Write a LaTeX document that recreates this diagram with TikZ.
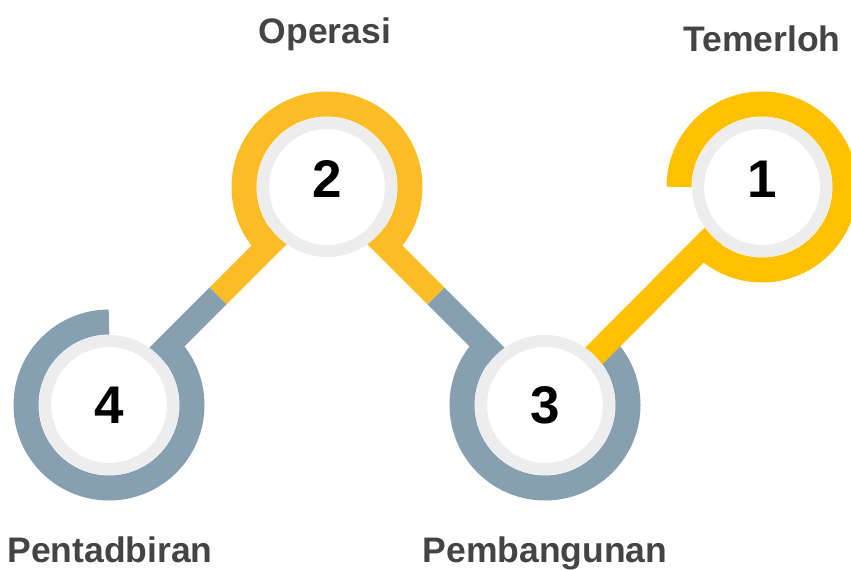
\documentclass[tikz,border=0pt]{standalone}
\usepackage{fontspec}
\setmainfont{Liberation Sans}
\usepackage{tikz}
\usetikzlibrary{calc}
\usetikzlibrary{backgrounds}
\usetikzlibrary{positioning}

\definecolor{gold}{HTML}{FFC000}
\definecolor{amber}{HTML}{FBBC26}
\definecolor{slate}{HTML}{87A0B1}
\definecolor{mist}{HTML}{EDEDED}
\definecolor{inkgrey}{HTML}{444444}

\tikzset{
  ring/.style={line width=25pt},
  link/.style={line width=24pt},
  hub/.style={circle,draw=mist,line width=12pt,fill=white,minimum size=128pt,inner sep=0pt},
  digit/.style={font=\bfseries\fontsize{53}{60}\selectfont,inner sep=0pt},
  caption/.style={text=inkgrey,font=\bfseries\fontsize{35.5}{42}\selectfont,anchor=base}
}

\begin{document}
\begin{tikzpicture}[x=1pt,y=1pt]

  \useasboundingbox (0,0) rectangle (851,570);

  \node [hub] (hub_1) at (762,383) {};
  \node [hub] (hub_2) at (327,383) {};
  \node [hub] (hub_3) at (545,165) {};
  \node [hub] (hub_4) at (109,165) {};

  \node [digit] (num_1) at ($(hub_1)+(0,8)$) {1};
  \node [digit] (num_2) at ($(hub_2)+(0,8)$) {2};
  \node [digit] (num_3) at (hub_3) {3};
  \node [digit] (num_4) at (hub_4) {4};

  \begin{scope}[on background layer]
    \draw [ring,gold]  ($(hub_1)+(180:83)$) arc [start angle=180,end angle=-135,radius=83];
    \draw [ring,amber] ($(hub_2)+(-45:83)$) arc [start angle=-45,end angle=225,radius=83];
    \draw [ring,slate] ($(hub_3)+(135:83)$) arc [start angle=135,end angle=405,radius=83];
    \draw [ring,slate] ($(hub_4)+(90:83)$)  arc [start angle=90,end angle=405,radius=83];

    \draw [link,gold]  (hub_1.center) -- (hub_3.center);
    \draw [link,amber] (hub_2.center) -- ($(hub_2)!0.5!(hub_4)$);
    \draw [link,slate] ($(hub_2)!0.5!(hub_4)$) -- (hub_4.center);
    \draw [link,amber] (hub_2.center) -- ($(hub_2)!0.5!(hub_3)$);
    \draw [link,slate] ($(hub_2)!0.5!(hub_3)$) -- (hub_3.center);
  \end{scope}

  \node [caption] (cap_1) at ($(hub_1)+(0,135)$) {Temerloh};
  \node [caption] (cap_2) at ($(hub_2)+(-2,143)$) {Operasi};
  \node [caption] (cap_3) at ($(hub_3)+(0,-158)$) {Pembangunan};
  \node [caption] (cap_4) at ($(hub_4)+(1,-158)$) {Pentadbiran};

\end{tikzpicture}
\end{document}
